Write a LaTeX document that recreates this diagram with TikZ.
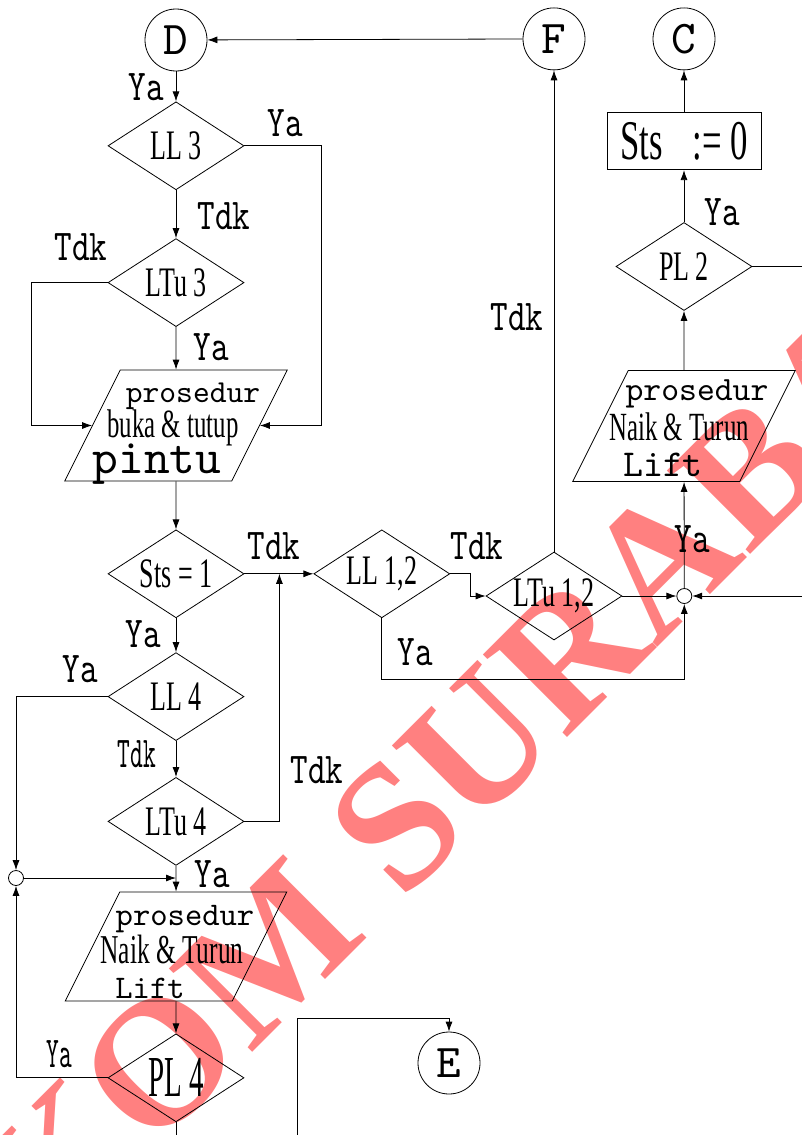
\documentclass[tikz,border=0pt]{standalone}
\usepackage{fontspec}
\usepackage{xcolor}
\usepackage{tikz}
\usetikzlibrary{arrows.meta,positioning,calc,shapes.geometric}
\newfontfamily\condtt{lmmono10-regular.otf}[FakeStretch=0.76]
\newfontfamily\thintt{lmmono10-regular.otf}[FakeStretch=0.55]
\newfontfamily\plaintt{lmmono10-regular.otf}
\newfontfamily\condrm{Liberation Serif}[FakeStretch=0.62]
\newfontfamily\thinrm{Liberation Serif}[FakeStretch=0.5]
\newfontfamily\stampfont{Liberation Serif}
\definecolor{stampred}{RGB}{255,128,128}
\tikzset{
  decision/.style={diamond,draw,aspect=1.6,inner sep=0pt,minimum width=136pt,minimum height=88pt,font=\condrm\fontsize{42}{44}\selectfont},
  io/.style={rectangle,draw,xslant=0.5,inner sep=0pt,minimum width=167pt,minimum height=111pt},
  process/.style={rectangle,draw,inner sep=0pt,minimum width=154pt,minimum height=57pt,font=\condrm\fontsize{56}{58}\selectfont},
  connector/.style={circle,draw,inner sep=0pt,minimum size=62pt,font=\plaintt\fontsize{47}{49}\selectfont},
  junction/.style={circle,draw,inner sep=0pt,minimum size=15pt},
  flow/.style={-{Latex[length=10pt,width=7pt]}},
  lbl/.style={inner sep=0pt,font=\condtt\fontsize{44}{46}\selectfont},
  thinlbl/.style={inner sep=0pt,font=\thintt\fontsize{44}{46}\selectfont},
  iotext/.style={inner sep=0pt,anchor=base},
  stamp/.style={inner sep=0pt,rotate=45,text=stampred,font=\stampfont\bfseries\fontsize{180}{180}\selectfont}
}
\begin{document}
\begin{tikzpicture}[x=1pt,y=-1pt,line width=.8pt]
  \useasboundingbox (0,0) rectangle (802,1135);
  \node[stamp] (wm) at (425,797) {STIKOM SURABAYA};
  % kolom kiri
  \node[connector] (D) at (176,40) {D};
  \node[decision,below=30pt of D] (LL3) {LL 3};
  \node[decision,below=48pt of LL3] (LTu3) {LTu 3};
  \node[io] (P1) at (176,425.5) {};
  \node[decision,below=48pt of P1.south -| LTu3] (Sts1) {Sts = 1};
  \node[decision,below=34pt of Sts1] (LL4) {LL 4};
  \node[decision,below=36pt of LL4] (LTu4) {LTu 4};
  \node[io,minimum height=109pt] (P2) at (176,946.5) {};
  \node[decision,below=32pt of P2.south -| LTu4,font=\thinrm\fontsize{58}{60}\selectfont] (PL4) {PL 4};
  \node[junction] (J2) at (16,878) {};
  % kolom kanan
  \node[decision,right=69pt of Sts1] (LL12) {LL 1,2};
  \node[decision] (LTu12) at (554,596) {LTu 1,2};
  \node[junction,right=54pt of LTu12] (J1) {};
  \node[io] (P3) at (684,426) {};
  \node[decision] (PL2) at (684,266.5) {PL 2};
  \node[process,above=52pt of PL2] (Sts0) {Sts\hspace{30pt}:= 0};
  \node[connector,above=42pt of Sts0] (C) {C};
  \node[connector] (F) at (LTu12 |- C) {F};
  \node[connector] (E) at (449,1063) {E};
  \coordinate (in1) at (802,596);
  \coordinate (out2) at (297,1135);
  \coordinate (M1) at ($(Sts1.east)+(35,0)$);
  % isi prosedur
  \node[iotext,font=\plaintt\fontsize{32}{34}\selectfont] (P1a) at (193,402) {prosedur};
  \node[iotext,font=\condrm\fontsize{40}{42}\selectfont] (P1b) at (173,437) {buka \& tutup};
  \node[iotext,font=\plaintt\fontsize{49}{51}\selectfont] (P1c) at (157,473) {pintu};
  \node[iotext,font=\plaintt\fontsize{34}{36}\selectfont] (P3a) at (697,400) {prosedur};
  \node[iotext,font=\condrm\fontsize{40}{42}\selectfont] (P3b) at (679,440) {Naik \& Turun};
  \node[iotext,font=\plaintt\fontsize{38}{40}\selectfont] (P3c) at (663,476) {Lift};
  \node[iotext,font=\plaintt\fontsize{33}{35}\selectfont] (P2a) at (185,925) {prosedur};
  \node[iotext,font=\condrm\fontsize{41}{43}\selectfont] (P2b) at (172,963) {Naik \& Turun};
  \node[iotext,font=\plaintt\fontsize{33}{35}\selectfont] (P2c) at (150,998) {Lift};
  % panah
  \draw[flow] (F) -- (D);
  \draw[flow] (D) -- (LL3);
  \draw[flow] (LL3.east) -- ++(77,0) |- (P1.east);
  \draw[flow] (LL3) -- (LTu3);
  \draw[flow] (LTu3.west) -- ++(-76,0) |- (P1.west);
  \draw[flow] (LTu3) -- (P1);
  \draw[flow] (P1) -- (Sts1);
  \draw[flow] (Sts1) -- (LL12);
  \draw[flow] (Sts1) -- (LL4);
  \draw[flow] (LL4.west) -| (J2);
  \draw[flow] (LL4) -- (LTu4);
  \draw[flow] (LTu4.east) -| (M1);
  \draw[flow] (LTu4) -- (P2);
  \draw[flow] (J2) -- (J2 -| P2);
  \draw[flow] (P2) -- (PL4);
  \draw[flow] (PL4.west) -| (J2);
  \draw (PL4.south) -- (PL4.south |- out2);
  \draw[flow] (out2) -- ++(0,-117) -| (E);
  \draw[flow] (LL12.east) -- ++(20,0) |- (LTu12.west);
  \draw[flow] (LL12.south) -- ++(0,61) -| (J1);
  \draw[flow] (LTu12.east) -- (J1);
  \draw[flow] (in1) -- (J1);
  \draw[flow] (LTu12.north) -- (F);
  \draw[flow] (J1) -- (P3);
  \draw[flow] (P3) -- (PL2);
  \draw (PL2.east) -- (PL2.east -| in1);
  \draw[flow] (PL2) -- (Sts0);
  \draw[flow] (Sts0) -- (C);
  % label
  \node[lbl] (ya1) at (146,87) {Ya};
  \node[lbl] (ya2) at (285,123) {Ya};
  \node[lbl] (tdk1) at (224,216) {Tdk};
  \node[lbl] (tdk2) at (81,247) {Tdk};
  \node[lbl] (ya3) at (211,347) {Ya};
  \node[lbl] (tdk3) at (274,546) {Tdk};
  \node[lbl] (ya4) at (143,634) {Ya};
  \node[lbl] (ya5) at (80,669) {Ya};
  \node[thinlbl] (tdk4) at (137,754) {Tdk};
  \node[lbl] (tdk5) at (317,770) {Tdk};
  \node[lbl] (ya6) at (212,874) {Ya};
  \node[thinlbl] (ya7) at (59,1054) {Ya};
  \node[lbl] (tdk6) at (477,546) {Tdk};
  \node[lbl] (ya8) at (415,652) {Ya};
  \node[lbl] (ya9) at (692,539) {Ya};
  \node[lbl] (tdk7) at (517,317) {Tdk};
  \node[lbl] (ya10) at (722,212) {Ya};
\end{tikzpicture}
\end{document}
